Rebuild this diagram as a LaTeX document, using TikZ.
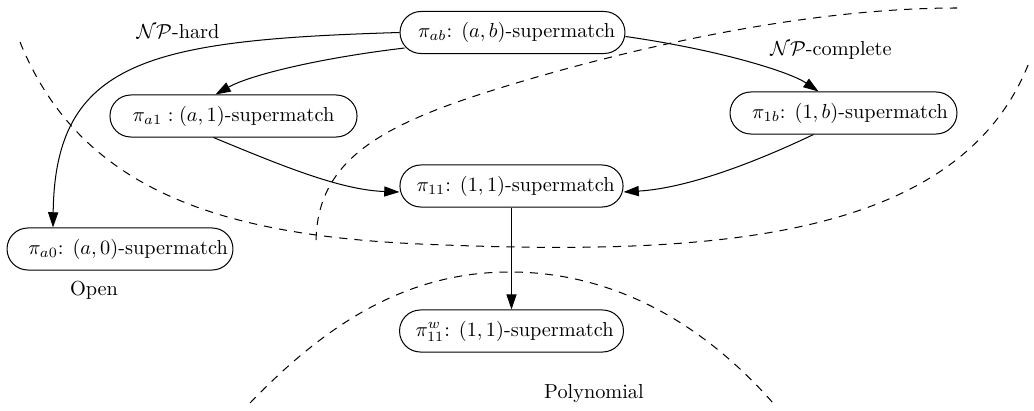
\documentclass[tikz,border=0pt]{standalone}
\usetikzlibrary{arrows.meta,calc}
\begin{document}
\begin{tikzpicture}[x=0.4926pt,y=-0.4926pt,
  sm/.style={draw, rounded corners=10.3pt, minimum height=20.7pt, inner sep=0pt, line width=0.5pt},
  arr/.style={-{Triangle[length=7.5pt,width=5pt]}, line width=0.5pt},
  bnd/.style={dash pattern=on 4pt off 3.5pt, line width=0.5pt},
  lbl/.style={inner sep=0pt}]
\useasboundingbox (0,0) rectangle (1034,411);
% nodes
\node[sm, minimum width=110.8pt] (ab) at (512.5,32.5) {\hspace*{4pt}$\pi_{ab}$: $(a,b)$-supermatch};
\node[sm, minimum width=121.7pt] (a1) at (233.5,116) {$\pi_{a1}:(a,1)$-supermatch};
\node[sm, minimum width=111.8pt] (1b) at (843.5,113) {\hspace*{6.4pt}$\pi_{1b}$: $(1,b)$-supermatch};
\node[sm, minimum width=109.9pt] (11) at (511.5,186) {\hspace*{4pt}$\pi_{11}$: $(1,1)$-supermatch};
\node[sm, minimum width=111.3pt] (a0) at (120,249) {\hspace*{8pt}$\pi_{a0}$: $(a,0)$-supermatch};
\node[sm, minimum width=110.3pt] (w) at (511.5,331) {\hspace*{3pt}$\pi_{11}^{w}$: $(1,1)$-supermatch};
% labels
\node[lbl] (lhard) at (178,32) {$\mathcal{NP}$-hard};
\node[lbl] (lcomp) at (831,50) {$\mathcal{NP}$-complete};
\node[lbl] (lopen) at (94,290) {Open};
\node[lbl] (lpoly) at (594,394) {Polynomial};
% boundaries
\draw[bnd] (20,42) .. controls (80,190) and (220,235) .. (420,244)
  .. controls (700,256) and (960,245) .. (1030,60);
\draw[bnd] (316,240) .. controls (318,160) and (380,125) .. (500,88)
  .. controls (620,51) and (800,8) .. (957,8);
\draw[bnd] (250,403) .. controls (330,320) and (410,272) .. (510,272)
  .. controls (610,272) and (700,320) .. (773,403);
% edges
\draw[arr] (ab.west) .. controls (150,40) and (55,60) .. ($(a0.north)+(-67,0)$);
\draw[arr] ($(ab.south west)+(5,-6)$) .. controls (320,58) and (250,75) .. ($(a1.north)+(-18,0)$);
\draw[arr] ($(ab.east)+(0,4)$) .. controls (720,50) and (790,72) .. ($(1b.north)+(-25,0)$);
\draw[arr] ($(a1.south)+(-20,0)$) .. controls (280,165) and (340,190) .. ($(11.west)+(0,6)$);
\draw[arr] ($(1b.south)+(-30,0)$) .. controls (760,160) and (690,188) .. ($(11.east)+(0,6)$);
\draw[arr] (11.south) -- (w.north);
\end{tikzpicture}
\end{document}
